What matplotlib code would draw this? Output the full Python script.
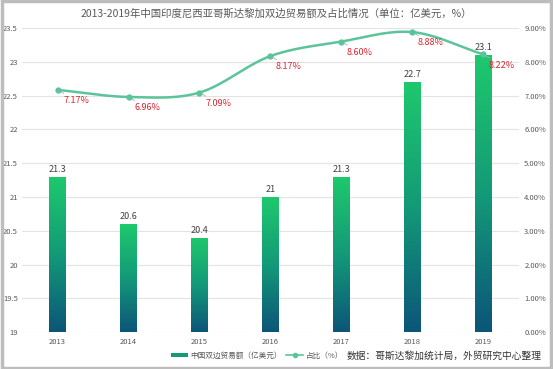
import numpy as np
import matplotlib.pyplot as plt
from matplotlib.colors import LinearSegmentedColormap
from matplotlib.patches import Rectangle
from matplotlib.lines import Line2D
from matplotlib.legend_handler import HandlerBase

plt.rcParams['font.family'] = ['Noto Sans CJK SC', 'DejaVu Sans']

years = ['2013', '2014', '2015', '2016', '2017', '2018', '2019']
trade = [21.3, 20.6, 20.4, 21.0, 21.3, 22.7, 23.1]
share = [7.17, 6.96, 7.09, 8.17, 8.60, 8.88, 8.22]
trade_labels = ['21.3', '20.6', '20.4', '21', '21.3', '22.7', '23.1']

line_color = '#5cc49a'
label_red = '#e0252f'
cmap = LinearSegmentedColormap.from_list('bar', ['#0c5578', '#139a78', '#1ec96c'])


def smooth(xs, ys, n=30):
    # catmull-rom curve through the points, for the drawing only
    xs = np.asarray(xs, float)
    ys = np.asarray(ys, float)
    px = np.concatenate([[2 * xs[0] - xs[1]], xs, [2 * xs[-1] - xs[-2]]])
    py = np.concatenate([[2 * ys[0] - ys[1]], ys, [2 * ys[-1] - ys[-2]]])
    outx, outy = [], []
    t = np.linspace(0, 1, n)
    for i in range(1, len(px) - 2):
        for p, out in ((px, outx), (py, outy)):
            p0, p1, p2, p3 = p[i - 1], p[i], p[i + 1], p[i + 2]
            out.extend(0.5 * ((2 * p1) + (-p0 + p2) * t + (2 * p0 - 5 * p1 + 4 * p2 - p3) * t ** 2
                              + (-p0 + 3 * p1 - 3 * p2 + p3) * t ** 3))
    return np.array(outx), np.array(outy)


fig = plt.figure(figsize=(5.53, 3.69), dpi=100)
fig.patches.append(Rectangle((0.003, 0.003), 0.994, 0.994, transform=fig.transFigure,
                             fill=False, edgecolor='#bdbdbd', linewidth=2.5))

ax = fig.add_axes([0.040, 0.100, 0.898, 0.824])
x = np.arange(len(years))
width = 0.23
ymin, ymax = 19, 23.5

grad = np.linspace(0, 1, 256).reshape(-1, 1)
for xi, v, lab in zip(x, trade, trade_labels):
    bar = ax.bar(xi, v - ymin, width, bottom=ymin, color='none', zorder=2)[0]
    im = ax.imshow(grad, cmap=cmap, aspect='auto', origin='lower',
                   extent=[xi - width / 2, xi + width / 2, ymin, v], zorder=2)
    im.set_clip_path(bar)
    ax.text(xi, v + 0.04, lab, ha='center', va='bottom', fontsize=6.5, color='#404040')

ax.set_xlim(-0.5, len(years) - 0.5)
ax.set_ylim(ymin, ymax)
ax.set_yticks(np.arange(19, 23.51, 0.5))
ax.set_yticklabels(['19', '19.5', '20', '20.5', '21', '21.5', '22', '22.5', '23', '23.5'])
ax.set_xticks(x)
ax.set_xticklabels(years)
ax.grid(axis='y', color='#e3e3e3', linewidth=0.8, zorder=0)
ax.set_axisbelow(True)
for s in ax.spines.values():
    s.set_visible(False)
ax.tick_params(length=0, labelsize=5.5, colors='#595959')
ax.tick_params(axis='y', pad=3)
ax.tick_params(axis='x', pad=4)

ax2 = ax.twinx()
ax2.set_ylim(0, 9)
ax2.set_yticks(np.arange(0, 9.01, 1))
ax2.set_yticklabels(['%.2f%%' % v for v in np.arange(0, 9.01, 1)])
for s in ax2.spines.values():
    s.set_visible(False)
ax2.tick_params(length=0, labelsize=5.5, colors='#595959', pad=4)

sx, sy = smooth(x, share)
ax2.plot(sx, sy, color=line_color, linewidth=1.8, zorder=3)
ax2.plot(x, share, 'o', color=line_color, markersize=3.5, zorder=4)
for xi, v in zip(x, share):
    ax2.annotate('%.2f%%' % v, xy=(xi, v), xytext=(xi + 0.08, v - 0.32),
                 fontsize=6.5, color=label_red, ha='left', va='center',
                 arrowprops=dict(arrowstyle='-', color='#b0b0b0', linewidth=0.6,
                                 shrinkA=0, shrinkB=0))

fig.text(0.5, 0.962, '2013-2019年中国印度尼西亚哥斯达黎加双边贸易额及占比情况（单位：亿美元，%）',
         ha='center', va='center', fontsize=7.5, color='#595959')


class GradHandler(HandlerBase):
    def create_artists(self, legend, orig, xd, yd, w, h, fontsize, trans):
        r = Rectangle((xd, yd + h * 0.2), w, h * 0.6, facecolor='#149a77', edgecolor='none',
                      transform=trans)
        return [r]


h1 = Rectangle((0, 0), 1, 1)
h2 = Line2D([], [], color=line_color, marker='o', markersize=3, linewidth=1.2)
fig.legend([h1, h2], ['中国双边贸易额（亿美元）', '占比（%）'], handler_map={Rectangle: GradHandler()},
           loc='center', bbox_to_anchor=(0.465, 0.036), ncol=2, frameon=False, fontsize=5.5,
           handlelength=2.2, columnspacing=0.6, handletextpad=0.3, labelcolor='#595959',
           borderpad=0.1)

fig.text(0.980, 0.036, '数据：哥斯达黎加统计局，外贸研究中心整理', ha='right', va='center',
         fontsize=7, color='#333333')

fig.savefig('out.png', dpi=100)
